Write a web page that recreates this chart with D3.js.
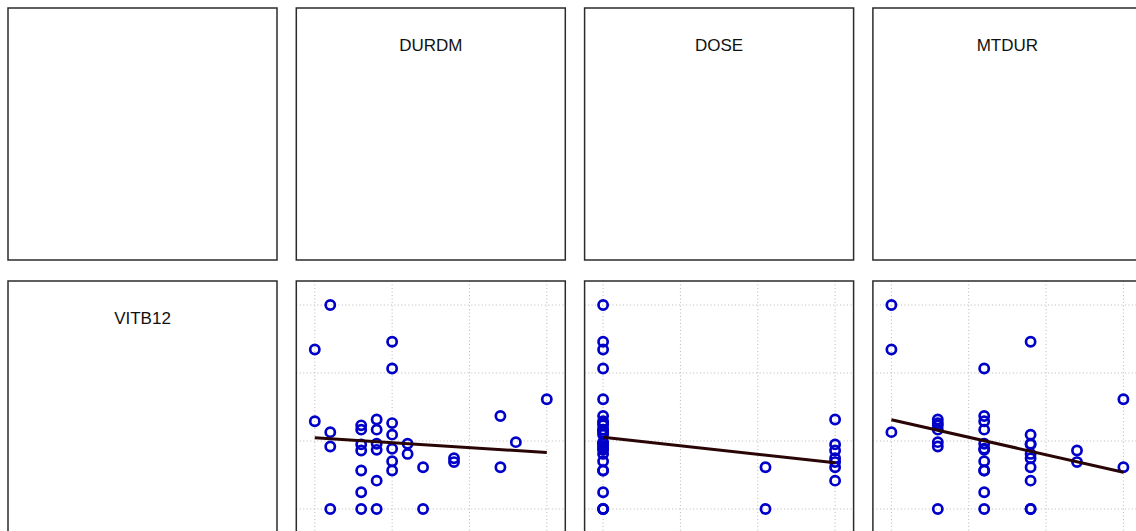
<!DOCTYPE html>
<html><head><meta charset="utf-8">
<script src="https://cdn.jsdelivr.net/npm/d3@7"></script>
<style>html,body{margin:0;padding:0;background:#fff;overflow:hidden}</style>
</head><body><svg id="c" width="1136" height="531"></svg>
<script>
// ---- data ----
const colVars = ["VITB12", "DURDM", "DOSE", "MTDUR"];
const vitb12 = [1000,838,804,720,584,510,495,487,479,469,
                450,450,439,428,395,388,388,385,376,366,
                361,358,343,324,307,311,284,284,270,270,
                225,174,100,100,100,100];
const durdm  = [2,6,1,6,16,13,5,1,6,4, 4,5,2,6,14,5,7,4,2,6,
                5,4,7,10,10,6,8,13,4,6, 5,4,2,4,5,8];
const dose   = [500,500,500,500,500,500,2000,500,500,500,
                500,500,500,500,500,500,500,2000,500,500,
                500,2000,500,2000,2000,500,1550,2000,500,500,
                2000,500,500,500,500,1550];
const mtdur  = [1,4,1,3,6,3,2,3,2,2, 3,2,1,4,2,3,4,4,2,3,
                3,5,4,4,5,3,4,6,3,3, 4,3,2,3,4,4];
// fitted VITB12 at min and max of each predictor (least-squares lines)
const fitDURDM = [414, 349];
const fitDOSE  = [417, 304];
const fitMTDUR = [494, 262];

const predictors = [
  {name: "DURDM", x: durdm, fit: fitDURDM},
  {name: "DOSE",  x: dose,  fit: fitDOSE},
  {name: "MTDUR", x: mtdur, fit: fitMTDUR}
];

// ---- layout ----
const svg = d3.select("#c");
const step = 288.3, pw = 269, ph = 252;
const rowTop = [8, 281];
const padX = 18.5, padY = 24;
const px = i => 8 + i * step;

function frame(x0, y0) {
  svg.append("rect").attr("x", x0).attr("y", y0).attr("width", pw).attr("height", ph)
    .attr("fill", "none").attr("stroke", "#2b2b2b").attr("stroke-width", 1.5);
}
function label(txt, x0, y0) {
  svg.append("text").attr("x", x0 + pw / 2).attr("y", y0 + 43)
    .attr("text-anchor", "middle").attr("fill", "#111")
    .style("font-family", "'Liberation Sans', Arial, sans-serif")
    .style("font-size", "17px").text(txt);
}

// top row
for (let i = 0; i < 4; i++) {
  const x0 = px(i), y0 = rowTop[0];
  if (i > 0) label(colVars[i], x0, y0);
  frame(x0, y0);
}

// bottom row
const yDom = d3.extent(vitb12);
const lin4 = ([a, b]) => d3.range(4).map(k => a + k * (b - a) / 3);

{
  const x0 = px(0), y0 = rowTop[1];
  label("VITB12", x0, y0);
  frame(x0, y0);
}

predictors.forEach((p, j) => {
  const x0 = px(j + 1), y0 = rowTop[1];
  const xDom = d3.extent(p.x);
  const xs = d3.scaleLinear().domain(xDom).range([x0 + padX, x0 + pw - padX]);
  const ys = d3.scaleLinear().domain(yDom).range([y0 + ph - padY, y0 + padY]);
  const g = svg.append("g");
  // grid
  g.selectAll(".vg").data(lin4(xDom)).join("line")
    .attr("x1", d => xs(d)).attr("x2", d => xs(d)).attr("y1", y0).attr("y2", y0 + ph)
    .attr("stroke", "#b8b8b8").attr("stroke-width", 1).attr("stroke-dasharray", "1,2.5");
  g.selectAll(".hg").data(lin4(yDom)).join("line")
    .attr("y1", d => ys(d)).attr("y2", d => ys(d)).attr("x1", x0).attr("x2", x0 + pw)
    .attr("stroke", "#b8b8b8").attr("stroke-width", 1).attr("stroke-dasharray", "1,2.5");
  // points
  g.selectAll("circle").data(p.x.map((v, i) => [v, vitb12[i]])).join("circle")
    .attr("cx", d => xs(d[0])).attr("cy", d => ys(d[1])).attr("r", 4.6)
    .attr("fill", "none").attr("stroke", "#0000c8").attr("stroke-width", 2.7);
  // fit line
  g.append("line")
    .attr("x1", xs(xDom[0])).attr("y1", ys(p.fit[0]))
    .attr("x2", xs(xDom[1])).attr("y2", ys(p.fit[1]))
    .attr("stroke", "#2a0505").attr("stroke-width", 3);
  frame(x0, y0);
});
</script>
</body></html>
